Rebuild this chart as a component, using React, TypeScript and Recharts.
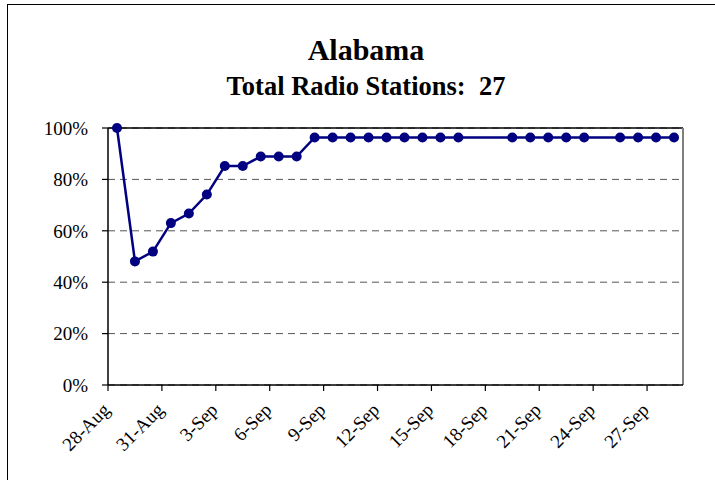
import {
  CartesianGrid,
  Line,
  LineChart,
  ReferenceLine,
  XAxis,
  YAxis,
} from "recharts";

// reporting dates and share of stations on air (of 27)
const dates = [
  "28-Aug", "29-Aug", "30-Aug", "31-Aug",
  "1-Sep", "2-Sep", "3-Sep", "4-Sep", "5-Sep", "6-Sep", "7-Sep", "8-Sep",
  "9-Sep", "10-Sep", "11-Sep", "12-Sep", "13-Sep", "14-Sep", "15-Sep", "16-Sep",
  "19-Sep", "20-Sep", "21-Sep", "22-Sep", "23-Sep",
  "25-Sep", "26-Sep", "27-Sep", "28-Sep",
];
const shares = [
  1.0, 0.481, 0.519, 0.63,
  0.667, 0.741, 0.852, 0.852, 0.889, 0.889, 0.889, 0.963,
  0.963, 0.963, 0.963, 0.963, 0.963, 0.963, 0.963, 0.963,
  0.963, 0.963, 0.963, 0.963, 0.963,
  0.963, 0.963, 0.963, 0.963,
];
const tickLabels = [
  "28-Aug", "31-Aug", "3-Sep", "6-Sep", "9-Sep", "12-Sep",
  "15-Sep", "18-Sep", "21-Sep", "24-Sep", "27-Sep",
];
const yTicks = [0, 0.2, 0.4, 0.6, 0.8, 1];

// days since 28-Aug
function dayOffset(label: string) {
  const [d, m] = label.split("-");
  return m === "Aug" ? Number(d) - 28 : Number(d) + 3;
}

const data = dates.map((d, i) => ({ day: dayOffset(d) + 0.5, share: shares[i] }));
const xTicks = tickLabels.map(dayOffset);

const font = "'Liberation Serif', 'Times New Roman', serif";

function DateTick({ x, y, payload }: any) {
  const label = tickLabels[xTicks.indexOf(payload.value)] ?? "";
  const ax = x + 3;
  const ay = y + 20;
  return (
    <text
      x={ax}
      y={ay}
      fill="#000"
      fontFamily={font}
      fontSize={19}
      textAnchor="end"
      transform={`rotate(-45 ${ax} ${ay})`}
    >
      {label}
    </text>
  );
}

export default function App() {
  return (
    <div style={{ position: "absolute", left: 0, top: 0, width: 715, height: 480 }}>
      <div
        style={{
          position: "absolute",
          left: 7,
          top: 4,
          width: 760,
          height: 520,
          borderLeft: "1.5px solid #000",
          borderTop: "1.5px solid #000",
        }}
      />
      <div
        style={{
          position: "absolute",
          left: 0,
          width: 732,
          top: 33,
          textAlign: "center",
          fontFamily: font,
          fontWeight: "bold",
          color: "#000",
        }}
      >
        <div style={{ fontSize: 30, lineHeight: "34px" }}>Alabama</div>
        <div style={{ fontSize: 26.5, lineHeight: "38px", whiteSpace: "pre" }}>
          Total Radio Stations:  27
        </div>
      </div>
      <div style={{ position: "absolute", left: 0, top: 0 }}>
        <LineChart
          data={data}
          height={480}
          margin={{ top: 128, right: 32, bottom: 0, left: 28 }}
          width={715}
        >
          <CartesianGrid
            horizontal
            stroke="#555"
            strokeDasharray="7 5"
            vertical={false}
          />
          <XAxis
            axisLine={{ stroke: "#000", strokeWidth: 1.5 }}
            dataKey="day"
            domain={[0, 32]}
            height={95}
            interval={0}
            tick={<DateTick />}
            tickLine={{ stroke: "#000", strokeWidth: 1.2 }}
            tickMargin={0}
            tickSize={6}
            ticks={xTicks}
            type="number"
          />
          <YAxis
            axisLine={{ stroke: "#000", strokeWidth: 1.5 }}
            domain={[0, 1]}
            interval={0}
            tick={{ fill: "#000", fontFamily: font, fontSize: 19 }}
            tickFormatter={(v: number) => `${Math.round(v * 100)}%`}
            tickLine={{ stroke: "#000", strokeWidth: 1.2 }}
            tickMargin={14}
            tickSize={6}
            ticks={yTicks}
            type="number"
            width={80}
          />
          <ReferenceLine stroke="#000" strokeWidth={1.5} y={1} />
          <ReferenceLine stroke="#808080" strokeWidth={2} x={32} />
          <Line
            dataKey="share"
            dot={{ r: 5, fill: "#000080", stroke: "#000080", strokeWidth: 0 }}
            isAnimationActive={false}
            stroke="#000080"
            strokeWidth={2.5}
            type="linear"
          />
        </LineChart>
      </div>
    </div>
  );
}
